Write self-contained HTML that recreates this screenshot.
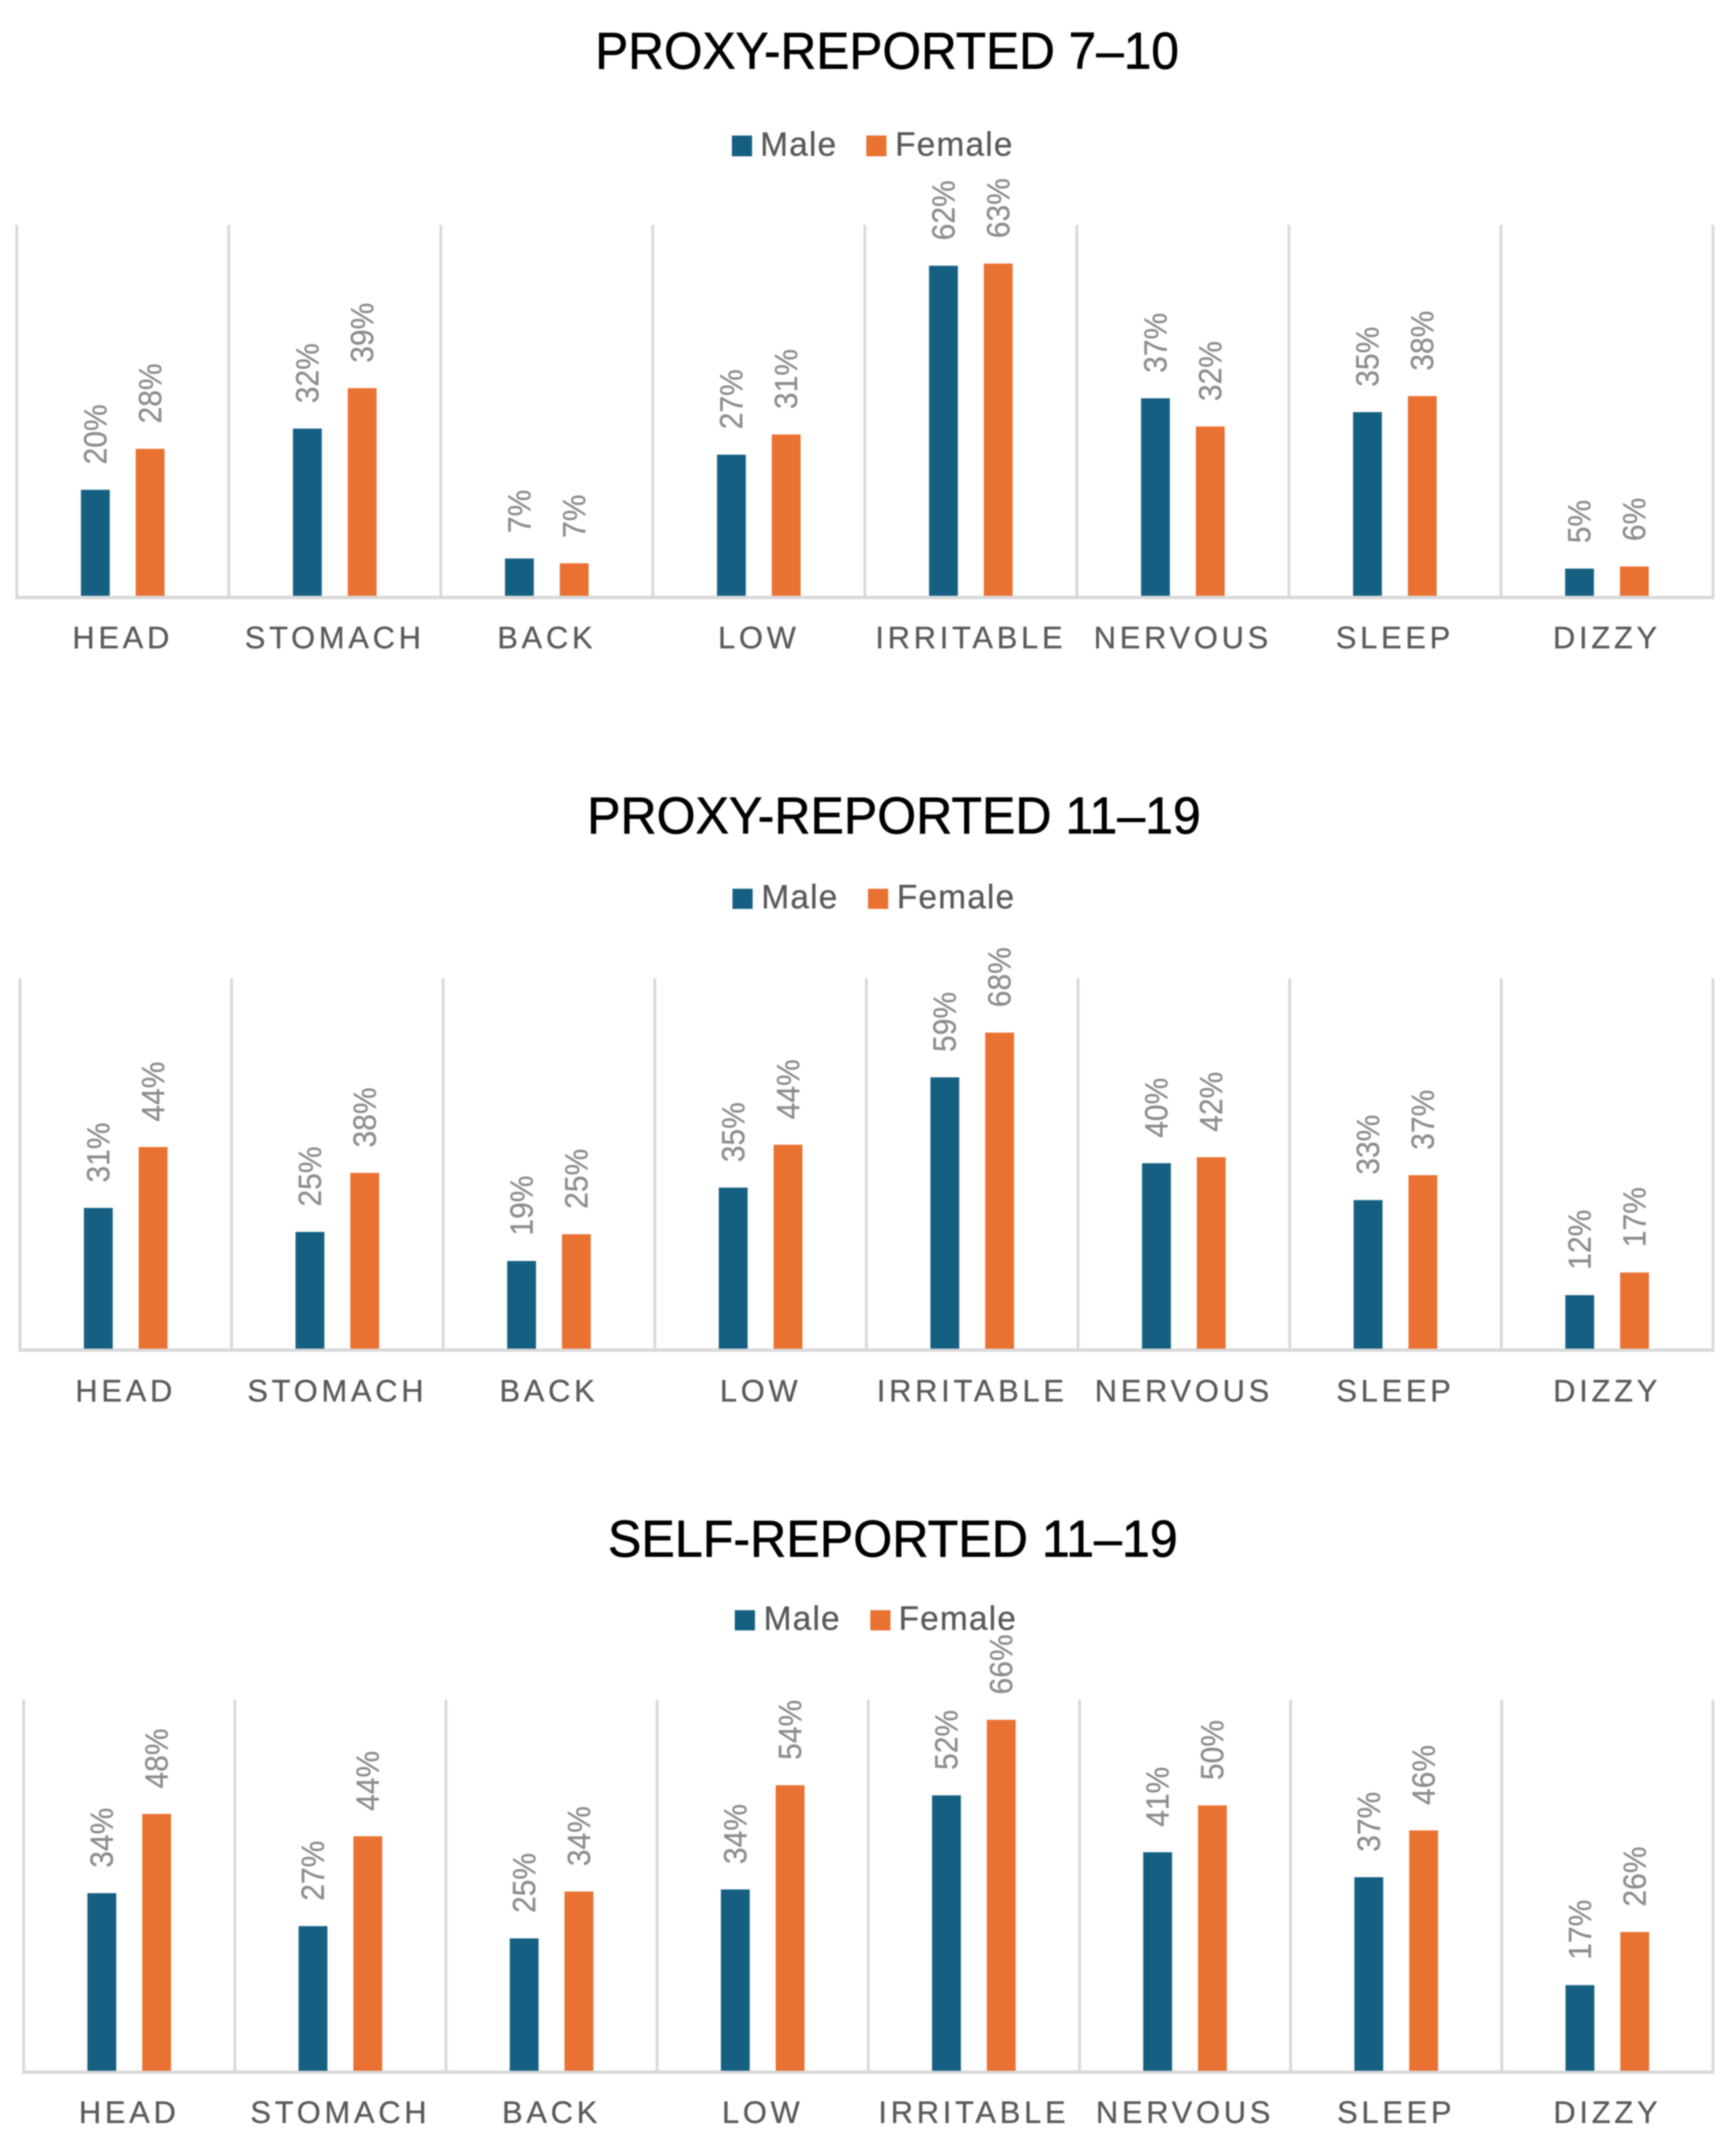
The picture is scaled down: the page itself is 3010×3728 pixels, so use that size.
<!DOCTYPE html>
<html lang="en">
<head>
<meta charset="utf-8">
<title>Symptoms by sex and reporter</title>
<style>
  html, body { margin: 0; padding: 0; background: #fff; }
  body { width: 3010px; height: 3728px; overflow: hidden; }
  svg { display: block; filter: blur(1px); font-family: "Liberation Sans", Arial, sans-serif; }
  .title { font-size: 90px; fill: #000; stroke: #000; stroke-width: 1px; }
  .legend { font-size: 58px; fill: #595959; letter-spacing: 2px; stroke: #595959; stroke-width: .5px; }
  .cat { font-size: 53.5px; fill: #595959; letter-spacing: 6.5px; text-anchor: middle; stroke: #595959; stroke-width: .5px; }
  .val { font-size: 56px; fill: #8c8c8c; stroke: #8c8c8c; stroke-width: .5px; }
</style>
</head>
<body>
<svg id="figure" xmlns="http://www.w3.org/2000/svg" width="3010" height="3728" viewBox="0 0 3010 3728">
  <rect width="3010" height="3728" fill="#fff"/>

  <g id="chart-a">
    <text class="title" x="1032" y="119" textLength="1012" lengthAdjust="spacingAndGlyphs">PROXY-REPORTED 7–10</text>
    <g>
      <rect x="1269" y="235" width="35" height="36" fill="#156082"/>
      <text class="legend" x="1318" y="270">Male</text>
      <rect x="1502" y="235" width="35" height="36" fill="#E97132"/>
      <text class="legend" x="1552" y="270">Female</text>
    </g>
  </g>

  <g id="chart-b">
    <text class="title" x="1018" y="1445" textLength="1064" lengthAdjust="spacingAndGlyphs">PROXY-REPORTED 11–19</text>
    <g>
      <rect x="1270" y="1541" width="35" height="35" fill="#156082"/>
      <text class="legend" x="1320" y="1575">Male</text>
      <rect x="1505" y="1541" width="35" height="35" fill="#E97132"/>
      <text class="legend" x="1555" y="1575">Female</text>
    </g>
  </g>

  <g id="chart-c">
    <text class="title" x="1054" y="2699" textLength="988" lengthAdjust="spacingAndGlyphs">SELF-REPORTED 11–19</text>
    <g>
      <rect x="1274" y="2792" width="35" height="35" fill="#156082"/>
      <text class="legend" x="1324" y="2826">Male</text>
      <rect x="1509" y="2792" width="35" height="35" fill="#E97132"/>
      <text class="legend" x="1558" y="2826">Female</text>
    </g>
  </g>
</svg>

<script>
// Shared category labels
const categories = ['HEAD', 'STOMACH', 'BACK', 'LOW', 'IRRITABLE', 'NERVOUS', 'SLEEP', 'DIZZY'];

const maleValuesA = [19.9, 31.4, 7.0, 26.5, 62.0, 37.1, 34.5, 5.1];
const femaleValuesA = [27.6, 39.0, 6.1, 30.3, 62.4, 31.8, 37.5, 5.5];
const malePrintedA = [20, 32, 7, 27, 62, 37, 35, 5];
const femalePrintedA = [28, 39, 7, 31, 63, 32, 38, 6];

// Proxy-reported 11–19
const maleValuesB = [30.5, 25.3, 19.0, 34.9, 58.8, 40.2, 32.2, 11.6];
const femaleValuesB = [43.7, 38.1, 24.8, 44.2, 68.5, 41.5, 37.6, 16.5];
const malePrintedB = [31, 25, 19, 35, 59, 40, 33, 12];
const femalePrintedB = [44, 38, 25, 44, 68, 42, 37, 17];

// Self-reported 11–19
const maleValuesC = [33.4, 27.2, 24.9, 34.1, 51.8, 41.1, 36.4, 16.1];
const femaleValuesC = [48.3, 44.1, 33.7, 53.7, 66.0, 49.9, 45.2, 26.1];
const malePrintedC = [34, 27, 25, 34, 52, 41, 37, 17];
const femalePrintedC = [48, 44, 34, 54, 66, 50, 46, 26];

const SVG_NS = 'http://www.w3.org/2000/svg';
const GRID = '#D9D9D9';
const BLUE = '#156082';
const ORANGE = '#E97132';

function make(tag, attrs, parent) {
  const node = document.createElementNS(SVG_NS, tag);
  for (const key in attrs) node.setAttribute(key, attrs[key]);
  parent.appendChild(node);
  return node;
}

function drawChart(groupId, frame, males, females, malePrinted, femalePrinted) {
  const group = document.getElementById(groupId);
  const slot = (frame.right - frame.left) / categories.length;
  const xCenter = i => frame.left + (i + 0.5) * slot;
  const yValue = v => frame.barBase - v * frame.pxPerUnit;

  for (let i = 0; i <= categories.length; i++) {
    const x = frame.left + i * slot;
    const el = make('line', { x1: x, x2: x, y1: frame.top, y2: frame.axisY, stroke: GRID, 'stroke-width': 5 }, group);
    
    
  }

  const axis = make('line', { x1: frame.left - 2.5, x2: frame.right + 2.5, y1: frame.axisY, y2: frame.axisY, stroke: GRID, 'stroke-width': 6 }, group);
  
  

  const drawBar = (value, printed, center, fill, series, cat) => {
    const top = yValue(value);
    const bar = make('rect', { x: center - 25, y: top, width: 50, height: frame.barBase - top, fill: fill }, group);
    
    

    const label = make('text', {
      class: 'val',
      transform: 'translate(' + (center + 19) + ',' + (top - 44) + ') rotate(-90) scale(0.93,1)'
    }, group);
    label.textContent = printed + '%';
    
    
  };

  categories.forEach((cat, i) => {
    const name = cat.toLowerCase();
    drawBar(males[i], malePrinted[i], xCenter(i) - 47.5, BLUE, 'male', name);
    drawBar(females[i], femalePrinted[i], xCenter(i) + 47.5, ORANGE, 'female', name);

    const tick = make('text', { class: 'cat', x: xCenter(i), y: frame.labelY }, group);
    tick.textContent = cat;
    
    
  });
}

drawChart('chart-a', { left: 29, right: 2970, top: 390, axisY: 1036, barBase: 1033, pxPerUnit: 9.23, labelY: 1124 },
  maleValuesA, femaleValuesA, malePrintedA, femalePrintedA);
drawChart('chart-b', { left: 34.5, right: 2970, top: 1696, axisY: 2341, barBase: 2338.5, pxPerUnit: 8.0, labelY: 2430 },
  maleValuesB, femaleValuesB, malePrintedB, femalePrintedB);
drawChart('chart-c', { left: 41, right: 2970, top: 2947, axisY: 3593, barBase: 3590.6, pxPerUnit: 9.22, labelY: 3681 },
  maleValuesC, femaleValuesC, malePrintedC, femalePrintedC);
</script>
</body>
</html>
